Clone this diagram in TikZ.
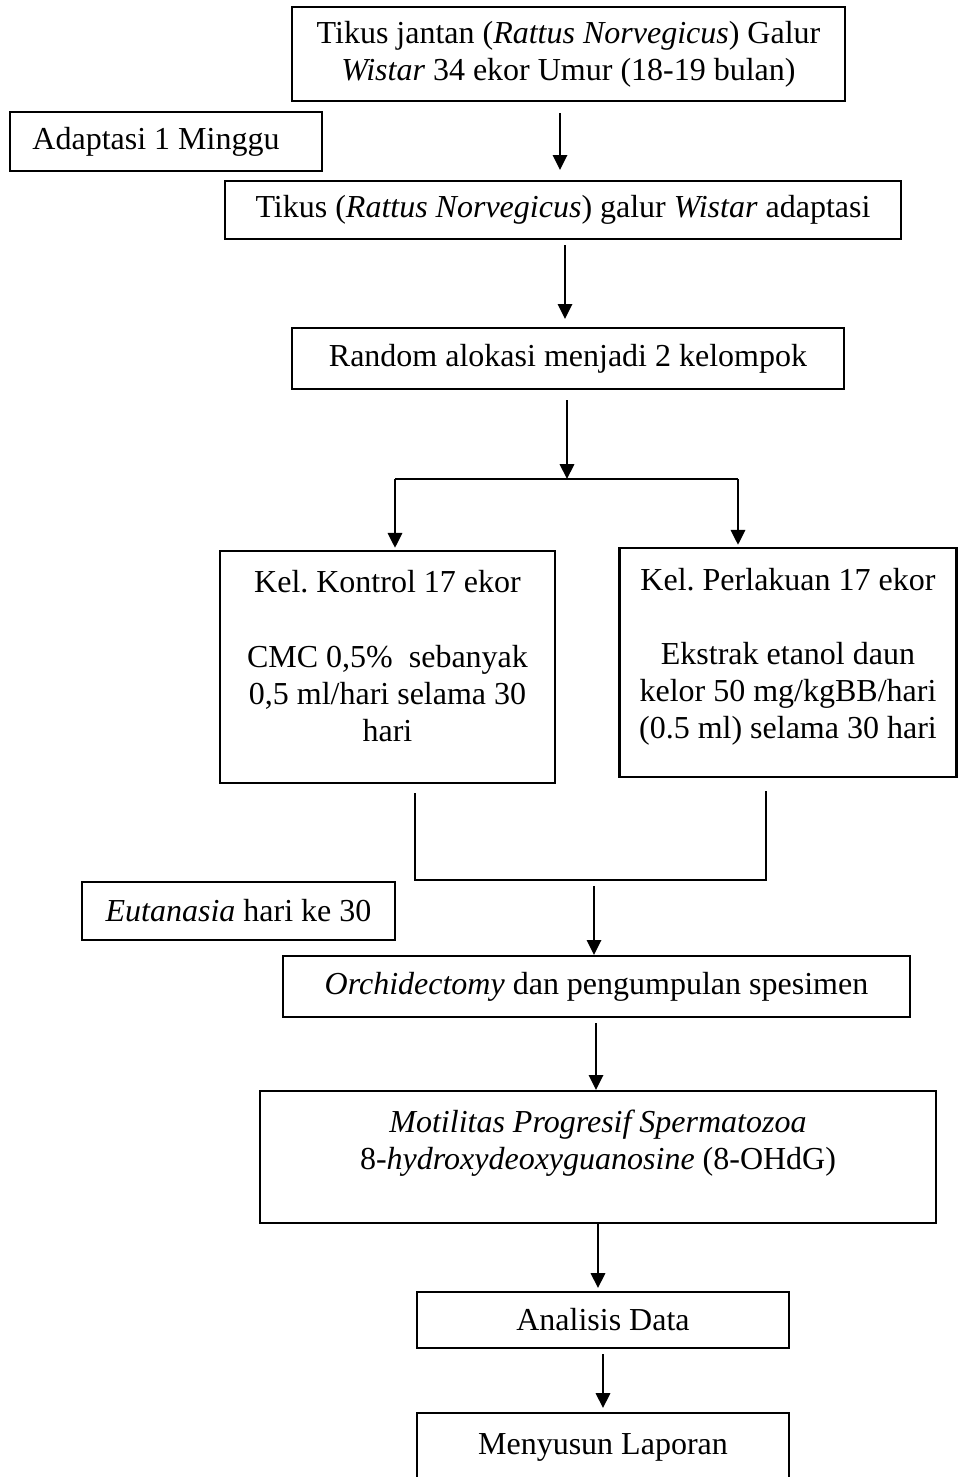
\documentclass[tikz,border=0pt]{standalone}
\usepackage{fontspec}
\setmainfont{Liberation Serif}
\usetikzlibrary{arrows.meta}
\begin{document}
\begin{tikzpicture}[x=0.375pt, y=-0.375pt,
  box/.style={draw, line width=0.8pt, inner sep=0pt, align=center,
              font=\fontsize{12}{13.9}\selectfont},
  link/.style={line width=0.8pt},
  arr/.style={link, -{Triangle[length=5.6pt, width=5.4pt]}}]
\useasboundingbox (0,0) rectangle (958,1477);

% boxes of the flow
\node[box, minimum width=553*0.375pt, minimum height=94*0.375pt] (start) at (568.5,54)
  {Tikus jantan (\textit{Rattus Norvegicus}) Galur\\ \textit{Wistar} 34 ekor Umur (18-19 bulan)};
\node[box, minimum width=312*0.375pt, minimum height=59*0.375pt] (adapt) at (166,141.5)
  {Adaptasi 1 Minggu\hspace*{7.5pt}};
\node[box, minimum width=676*0.375pt, minimum height=58*0.375pt] (adapted) at (563,210)
  {Tikus (\textit{Rattus Norvegicus}) galur \textit{Wistar} adaptasi};
\node[box, minimum width=552*0.375pt, minimum height=61*0.375pt] (random) at (568,358.5)
  {Random alokasi menjadi 2 kelompok};
\node[box, minimum width=335*0.375pt, minimum height=232*0.375pt] (control) at (387.5,667)
  {Kel.\ Kontrol 17 ekor\\[13.9pt] CMC 0,5\%~ sebanyak\\ 0,5 ml/hari selama 30\\ hari\rule[-8.25pt]{0pt}{0pt}};
\node[box, minimum width=337*0.375pt, minimum height=229*0.375pt] (treat) at (788,662.5)
  {Kel.\ Perlakuan 17 ekor\\[13.9pt] Ekstrak etanol daun\\ kelor 50 mg/kgBB/hari\\ (0.5 ml) selama 30 hari\rule[-6.75pt]{0pt}{0pt}};
\node[box, minimum width=313*0.375pt, minimum height=58*0.375pt] (euth) at (238.5,911)
  {\textit{Eutanasia} hari ke 30};
\node[box, minimum width=627*0.375pt, minimum height=61*0.375pt] (orchid) at (596.5,986.5)
  {\textit{Orchidectomy} dan pengumpulan spesimen};
\node[box, minimum width=676*0.375pt, minimum height=132*0.375pt] (motil) at (598,1157)
  {\textit{Motilitas Progresif Spermatozoa}\\ 8-\textit{hydroxydeoxyguanosine} (8-OHdG)\rule[-13.1pt]{0pt}{0pt}};
\node[box, minimum width=372*0.375pt, minimum height=56*0.375pt] (analysis) at (603,1320)
  {Analisis Data};
% the last box runs past the lower edge of the page
\node[box, anchor=north, minimum width=372*0.375pt, text height=15.4pt, text depth=15pt] (report) at (603,1412)
  {Menyusun Laporan};

% columns of the vertical arrows
\coordinate (c1) at (560,0);
\coordinate (c2) at (565,0);
\coordinate (split) at (567,479);
\coordinate (bl) at (395,479);
\coordinate (br) at (738,479);
\coordinate (ml) at (415,880);
\coordinate (mr) at (766,880);
\coordinate (mm) at (594,880);
\coordinate (c5) at (596,0);
\coordinate (c6) at (598,0);
\coordinate (c7) at (603,0);

% connectors
\draw[arr, shorten <=4.1pt, shorten >=3.75pt] (c1 |- start.south) -- (c1 |- adapted.north);
\draw[arr, shorten <=2pt, shorten >=3pt] (c2 |- adapted.south) -- (c2 |- random.north);
\draw[arr, shorten <=3.75pt] (split |- random.south) -- (split);
\draw[link] (bl) -- (br);
\draw[arr, shorten >=0.8pt] (bl) -- (bl |- control.north);
\draw[arr, shorten >=0.8pt] (br) -- (br |- treat.north);
\draw[link, shorten <=3.4pt, shorten >=4.9pt] (ml |- control.south) -- (ml) -- (mr) -- (mr |- treat.south);
\draw[arr, shorten <=2.2pt] (mm) -- (mm |- orchid.north);
\draw[arr, shorten <=1.9pt] (c5 |- orchid.south) -- (c5 |- motil.north);
\draw[arr, shorten >=1.1pt] (c6 |- motil.south) -- (c6 |- analysis.north);
\draw[arr, shorten <=1.9pt, shorten >=1.5pt] (c7 |- analysis.south) -- (c7 |- report.north);
\end{tikzpicture}
\end{document}
